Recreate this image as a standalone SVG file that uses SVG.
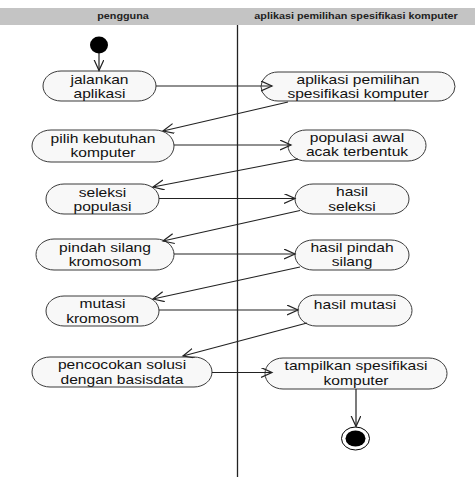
<svg xmlns="http://www.w3.org/2000/svg" width="475" height="478" viewBox="0 0 475 478">
<style>
.node rect{fill:#f8f8f8;stroke:#3a3a3a;stroke-width:1}
.node text{font-family:"Liberation Sans",Arial,sans-serif;font-size:13px;fill:#111;text-anchor:middle}
.hdr{font-family:"Liberation Sans",Arial,sans-serif;font-size:9px;font-weight:bold;fill:#222;text-anchor:middle}
.conn line{stroke:#222;stroke-width:1.2;fill:none}
.arr{marker-end:url(#ah)}
</style>
<defs>
<marker id="ah" markerUnits="userSpaceOnUse" markerWidth="14" markerHeight="12" refX="11" refY="5" orient="auto">
<path d="M0,0 L11,5 L0,10" fill="none" stroke="#222" stroke-width="1.2"/>
</marker>
</defs>
<rect x="0" y="8" width="475" height="17" fill="#c4c4c4"/>
<g transform="translate(123 0) scale(1.2 1)"><text class="hdr" x="0" y="19">pengguna</text></g>
<g transform="translate(356 0) scale(1.2 1)"><text class="hdr" x="0" y="19">aplikasi pemilihan spesifikasi komputer</text></g>
<line x1="237.5" y1="25" x2="237.5" y2="477" stroke="#222" stroke-width="1.3"/>

<g id="start"><ellipse cx="99" cy="45" rx="9" ry="8.5" fill="#000"/></g>
<g id="end"><ellipse cx="355.5" cy="438.5" rx="14" ry="11.5" fill="#fff" stroke="#000" stroke-width="1"/><ellipse cx="355.5" cy="438.5" rx="10" ry="8" fill="#000"/></g>

<g id="n1" class="node"><rect x="43" y="71" width="113" height="30" rx="18" ry="15"/><g transform="translate(99.5 0) scale(1.2 1)"><text x="0" y="84">jalankan</text><text x="0" y="98">aplikasi</text></g></g>
<g id="n2" class="node"><rect x="261" y="72" width="194" height="29" rx="17" ry="14.5"/><g transform="translate(358 0) scale(1.2 1)"><text x="0" y="84">aplikasi pemilihan</text><text x="0" y="98">spesifikasi komputer</text></g></g>
<g id="n3" class="node"><rect x="32" y="130" width="142" height="32" rx="19" ry="16"/><g transform="translate(103 0) scale(1.2 1)"><text x="0" y="143">pilih kebutuhan</text><text x="0" y="157.5">komputer</text></g></g>
<g id="n4" class="node"><rect x="288" y="130" width="138" height="31" rx="18" ry="15.5"/><g transform="translate(357 0) scale(1.2 1)"><text x="0" y="142">populasi awal</text><text x="0" y="156">acak terbentuk</text></g></g>
<g id="n5" class="node"><rect x="46" y="184" width="113" height="30" rx="18" ry="15"/><g transform="translate(102.5 0) scale(1.2 1)"><text x="0" y="197">seleksi</text><text x="0" y="211">populasi</text></g></g>
<g id="n6" class="node"><rect x="295" y="184" width="114" height="30" rx="18" ry="15"/><g transform="translate(352 0) scale(1.2 1)"><text x="0" y="196.5">hasil</text><text x="0" y="211">seleksi</text></g></g>
<g id="n7" class="node"><rect x="36" y="239" width="138" height="31" rx="18" ry="15.5"/><g transform="translate(105 0) scale(1.2 1)"><text x="0" y="252.5">pindah silang</text><text x="0" y="266.5">kromosom</text></g></g>
<g id="n8" class="node"><rect x="295" y="240" width="114" height="30" rx="18" ry="15"/><g transform="translate(352 0) scale(1.2 1)"><text x="0" y="252.5">hasil pindah</text><text x="0" y="266.5">silang</text></g></g>
<g id="n9" class="node"><rect x="46" y="296" width="113" height="30" rx="18" ry="15"/><g transform="translate(102.5 0) scale(1.2 1)"><text x="0" y="308.5">mutasi</text><text x="0" y="323">kromosom</text></g></g>
<g id="n10" class="node"><rect x="298" y="295" width="114" height="31" rx="18" ry="15.5"/><g transform="translate(355 0) scale(1.2 1)"><text x="0" y="309">hasil mutasi</text></g></g>
<g id="n11" class="node"><rect x="32" y="357" width="180" height="30" rx="18" ry="15"/><g transform="translate(122 0) scale(1.2 1)"><text x="0" y="369.5">pencocokan solusi</text><text x="0" y="384">dengan basisdata</text></g></g>
<g id="n12" class="node"><rect x="265" y="358" width="182" height="31" rx="18" ry="15.5"/><g transform="translate(356 0) scale(1.2 1)"><text x="0" y="370.5">tampilkan spesifikasi</text><text x="0" y="385">komputer</text></g></g>

<g id="connectors" class="conn">
<line class="arr" x1="99" y1="53" x2="99" y2="70.5"/>
<line class="arr" x1="156" y1="86" x2="272" y2="86"/>
<line class="arr" x1="288" y1="102" x2="163" y2="131"/>
<line class="arr" x1="174" y1="145" x2="291" y2="145"/>
<line class="arr" x1="298" y1="159" x2="153" y2="187"/>
<line class="arr" x1="159" y1="198.5" x2="295" y2="198.5"/>
<line class="arr" x1="300" y1="210.5" x2="163" y2="241"/>
<line class="arr" x1="174" y1="254" x2="295" y2="254"/>
<line class="arr" x1="300" y1="267" x2="153" y2="299"/>
<line class="arr" x1="159" y1="310" x2="298" y2="310"/>
<line class="arr" x1="307" y1="323" x2="183" y2="356"/>
<line class="arr" x1="212" y1="372.5" x2="272" y2="372.5"/>
<line class="arr" x1="356" y1="389" x2="356" y2="426.5"/>
</g>
</svg>
